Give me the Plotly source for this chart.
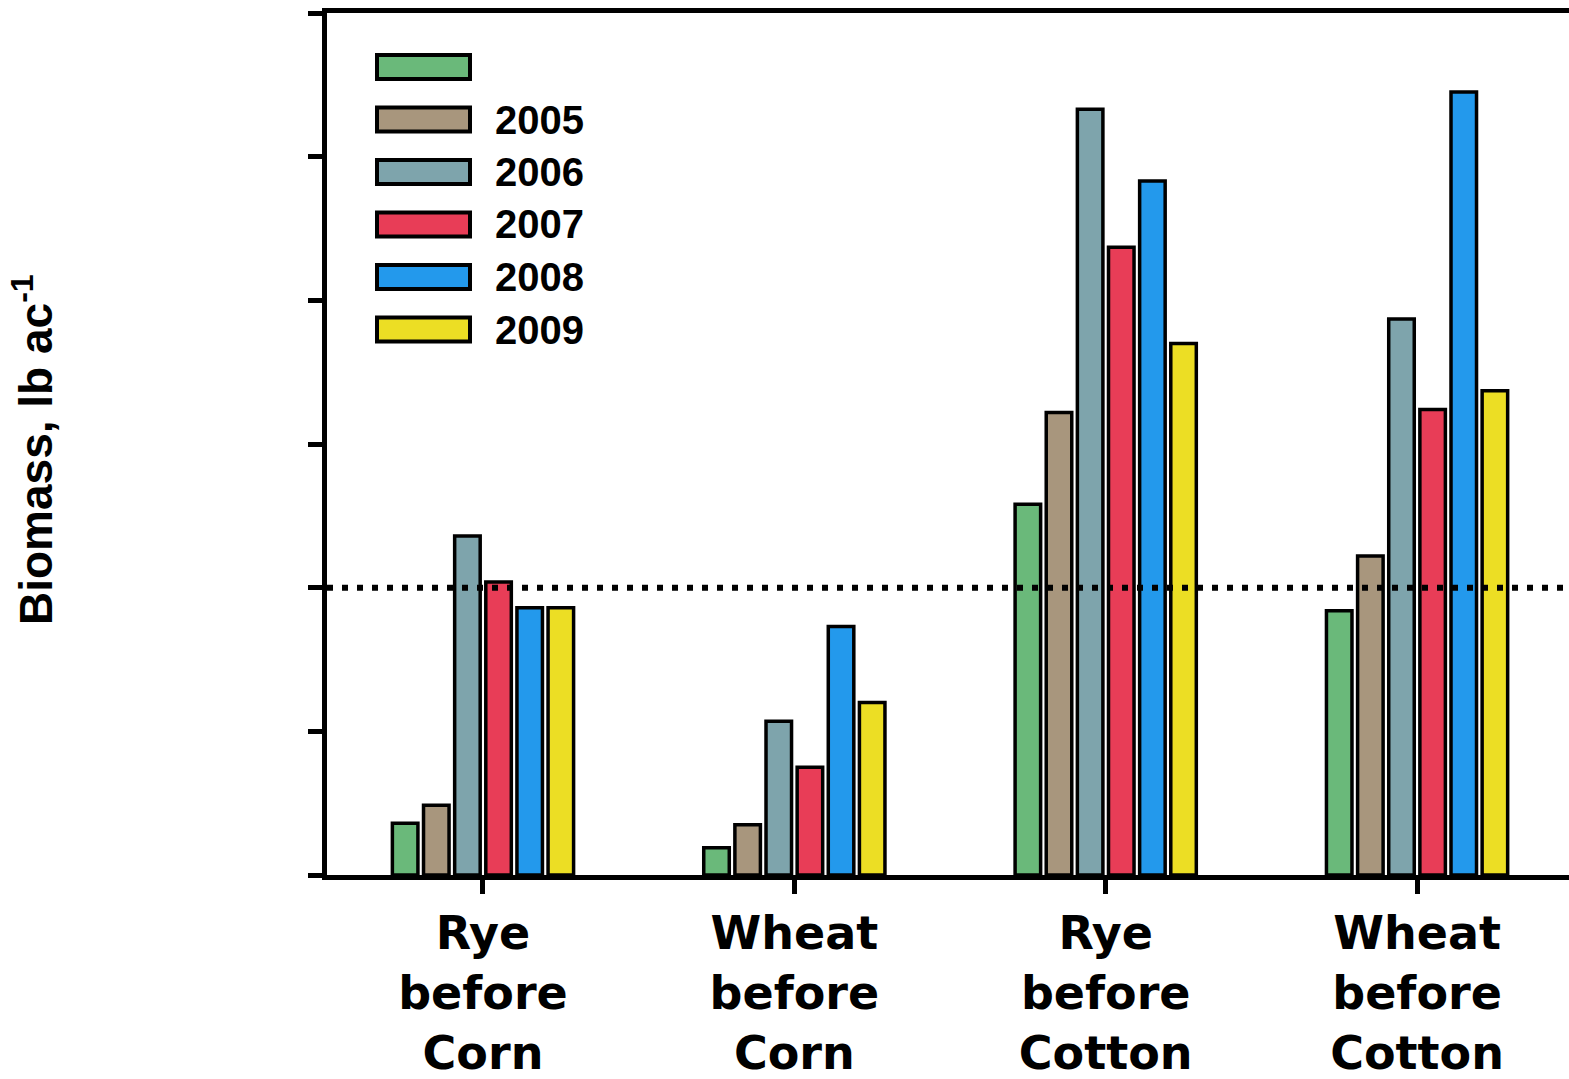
import plotly.graph_objects as go

# Cover-crop biomass by system and year
categories = ["Rye<br>before<br>Corn", "Wheat<br>before<br>Corn",
              "Rye<br>before<br>Cotton", "Wheat<br>before<br>Cotton"]
years = ["", "2005", "2006", "2007", "2008", "2009"]
colors = ["#6AB97A", "#A8967D", "#7EA4AC", "#E83D57", "#2399EC", "#ECDE24"]

biomass_blank = [360, 190, 2580, 1840]
biomass_2005 = [485, 350, 3220, 2220]
biomass_2006 = [2360, 1070, 5330, 3870]
biomass_2007 = [2040, 750, 4370, 3240]
biomass_2008 = [1860, 1730, 4830, 5450]
biomass_2009 = [1860, 1200, 3700, 3370]
series = [biomass_blank, biomass_2005, biomass_2006, biomass_2007, biomass_2008, biomass_2009]

threshold = 2000
y_max = 6000

W, H = 1569, 1079
L, R, T, B = 327, 0, 13, 204
plot_w = W - L - R
plot_h = H - T - B

fig = go.Figure()
for name, vals, col in zip(years, series, colors):
    fig.add_trace(go.Bar(
        x=list(range(len(categories))), y=vals, name=name,
        marker=dict(color=col, line=dict(color="black", width=3.5)),
        showlegend=False,
    ))

# dotted reference line
fig.add_shape(type="line", xref="paper", yref="y", x0=0, x1=1, y0=threshold, y1=threshold,
              line=dict(color="black", width=6, dash="6px,9px"), layer="above")


# hand-built legend with wide swatches
def px_to_paper_x(px):
    return (px - L) / plot_w


def px_to_paper_y(py):
    return (H - B - py) / plot_h


row0, row_step = 67, 52.5
for i, (name, col) in enumerate(zip(years, colors)):
    cy = row0 + i * row_step
    fig.add_shape(type="rect", xref="paper", yref="paper",
                  x0=px_to_paper_x(377), x1=px_to_paper_x(470),
                  y0=px_to_paper_y(cy + 12), y1=px_to_paper_y(cy - 12),
                  fillcolor=col, line=dict(color="black", width=4), layer="above")
    if name:
        fig.add_annotation(xref="paper", yref="paper", x=px_to_paper_x(493), y=px_to_paper_y(cy),
                           xanchor="left", yanchor="middle", showarrow=False, text=name,
                           font=dict(family="Liberation Sans, Arial", size=40, color="black",
                                     weight="bold"))

fig.add_annotation(xref="paper", yref="paper", x=px_to_paper_x(33), y=px_to_paper_y(450),
                   xanchor="center", yanchor="middle", showarrow=False, textangle=-90,
                   text="Biomass, lb ac<sup>-1</sup>",
                   font=dict(family="Liberation Sans, Arial", size=46, color="black",
                             weight="bold"))

fig.update_layout(
    width=W, height=H,
    margin=dict(l=L, r=R, t=T, b=B, pad=0),
    paper_bgcolor="white", plot_bgcolor="white",
    barmode="group", bargap=0.4, bargroupgap=0.18,
    xaxis=dict(
        range=[-0.501, 3.488], tickvals=list(range(len(categories))), ticktext=categories,
        showline=True, linewidth=5, linecolor="black", mirror=True,
        ticks="outside", ticklen=14, tickwidth=5, tickcolor="black",
        showgrid=False, zeroline=False,
        tickfont=dict(family="DejaVu Sans", size=46, color="black", weight="bold"),
    ),
    yaxis=dict(
        range=[0, y_max], dtick=1000, showticklabels=False,
        showline=True, linewidth=5, linecolor="black",
        ticks="outside", ticklen=14, tickwidth=5, tickcolor="black",
        showgrid=False, zeroline=False,
    ),
)

fig.write_html("out.html")
